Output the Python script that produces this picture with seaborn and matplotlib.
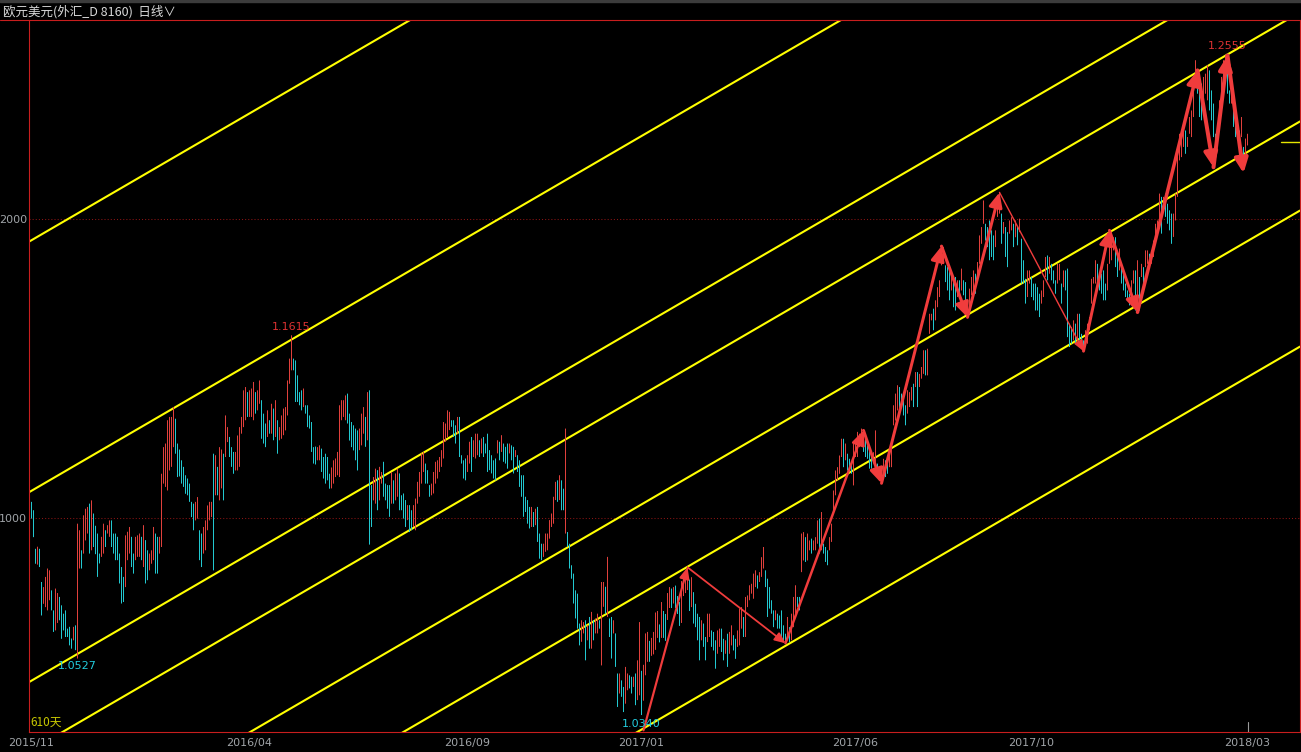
import numpy as np
import pandas as pd
import matplotlib
matplotlib.use("Agg")
import matplotlib.pyplot as plt
from matplotlib.lines import Line2D
from matplotlib.patches import Rectangle
import seaborn as sns

# ---------------- data (chart units: 1000 = 1.1000, 2000 = 1.2000) ----------------
bar_high = [
    1055,1027,898,905,898,787,770,804,832,826,759,692,765,750,737,709,681,692,631,637,598,637,642,982,
    960,893,1010,1032,1038,1049,1060,1016,975,
    949,882,938,982,960,977,993,993,949,949,938,882,837,804,943,955,
    971,938,882,938,943,949,938,977,927,893,882,893,971,949,938,938,1149,1238,1250,1328,1339,1339,1372,1333,1250,1230,
    1194,1172,1144,1133,1116,1055,1049,1055,1071,960,949,971,993,1043,1055,1055,1216,1211,1172,1238,1230,
    1216,1344,1305,1272,1238,1222,1222,1277,1305,1339,1428,1439,1422,1428,1434,1456,1422,1428,1461,1395,1350,
    1317,1361,1328,1383,1367,1395,1328,1305,1344,1367,1372,1461,1534,1612,
    1534,1528,1478,1422,1428,1434,1378,1378,1344,1322,1238,1240,
    1238,1244,1233,1205,1216,1205,1149,1170,
    1194,1200,1222,1378,1395,1395,1411,1417,1350,
    1322,1311,1300,1294,
    1300,1350,1372,1339,1422,1428,1111,1138,1166,1161,1172,1155,1189,1116,1111,1111,1155,1127,1150,1166,
    1150,1077,1083,1061,1044,1044,1027,1044,1066,1122,1155,1217,1222,1183,1161,1111,1116,1155,1189,1194,
    1205,1228,1322,1317,1361,1356,1328,1328,1311,1339,1339,1211,1194,1200,1211,1256,1272,1261,1283,1283,
    1261,1267,1272,1250,1283,1228,1211,1194,1200,1261,1256,1278,1250,1239,1250,1250,1244,1239,1228,1211,
    1194,1144,1144,1072,1061,1038,1038,1021,1032,1038,949,915,915,949,949,994,1016,1072,1122,1127,
    1144,1127,1099,1300,954,915,843,815,759,748,648,659,653,659,642,670,687,659,665,681,
    659,787,787,771,871,665,670,659,615,481,481,458,436,503,481,475,470,470,481,525,
    653,490,
    510,615,620,590,600,620,685,690,645,720,690,680,750,770,765,770,775,740,720,790,810,825,838,795,
    803,753,714,681,670,659,648,603,681,681,625,620,592,625,631,631,597,592,614,620,
    642,609,597,625,698,703,670,737,742,776,781,815,826,809,820,870,904,826,798,770,
    726,692,692,681,675,692,642,614,670,636,681,737,776,737,737,949,954,937,949,926,
    932,926,937,993,999,1021,915,904,893,937,982,1093,1160,1171,1210,1266,1266,1250,1216,1199,
    1183,1250,1250,1289,1283,1300,1283,1272,1244,1238,1205,1221,1294,1183,1171,1171,1199,1194,1183,1210,
    1238,1378,1417,1445,1439,1417,1411,1378,1428,1422,1439,1450,1489,1489,1483,1506,1562,1562,1567,1684,
    1684,1701,1729,1773,1796,1907,1907,1846,1840,1829,1818,1807,1807,1796,1796,1835,1796,1790,1706,1768,
    1807,1829,1818,1857,1946,1974,2063,1985,1974,1996,1963,1946,1963,2075,2091,2019,1991,1974,1957,1996,
    2007,1985,1996,1974,
    2002,1935,1863,1801,1829,1829,1807,1785,1785,1773,1751,1762,1796,1874,1879,1874,1851,1829,1796,1851,
    1851,1785,1829,1829,1835,1651,1640,1662,1651,1684,1684,1617,1595,1629,1651,1673,1801,1807,1863,1851,
    1807,1818,1829,1785,1851,1963,1957,1940,1940,1896,1902,1851,1829,1785,1762,1751,1796,1829,1829,1863,
    1807,1851,1840,1896,1896,1885,1896,1929,1985,1996,2086,2075,2075,2086,2052,2030,2019,2019,2086,2242,
    2286,2297,2297,2297,2275,2342,2364,2442,2532,2498,2465,2454,2476,2487,2515,2498,2431,2387,2286,2320,
    2398,2476,2532,2548,2554,2431,2442,2387,2342,2309,2297,2342,2242,2270,2286,
]
bar_low = [
    999,937,848,845,837,675,714,703,692,726,692,620,625,650,659,597,625,603,603,575,564,592,559,531,
    832,832,882,926,949,882,893,904,880,
    804,849,871,882,904,949,938,904,882,860,860,782,715,720,770,860,
    882,837,815,860,871,871,860,837,782,793,826,848,860,815,815,882,904,1116,1105,1093,1160,1172,1238,1216,1138,1140,
    1116,1105,1082,1077,1055,1004,960,993,999,860,837,882,893,960,993,1004,826,1077,1077,1060,1100,
    1060,1205,1255,1205,1172,1149,1160,1160,1172,1283,1305,1328,1339,1339,1339,1328,1350,1361,1383,1266,1250,
    1238,1272,1283,1283,1261,1272,1216,1261,1266,1278,1294,1344,1450,1495,
    1495,1389,1389,1378,1361,1372,1350,1305,1300,1222,1183,1180,
    1194,1194,1155,1133,1116,1127,1099,1100,
    1116,1138,1144,1138,1328,1339,1328,1317,1260,
    1238,1227,1194,1160,
    1228,1244,1283,1239,1261,912,971,1060,1049,1027,1060,1116,1072,1060,1032,1005,1049,1049,1060,1072,
    1027,1027,999,971,994,954,960,971,960,1049,1072,1116,1155,1116,1116,1072,1077,1083,1116,1133,
    1155,1172,1200,1256,1272,1295,1306,1272,1250,1283,1205,1183,1133,1127,1155,1183,1155,1205,1200,1211,
    1205,1217,1205,1217,1155,1161,1150,1133,1127,1217,1194,1222,1189,1183,1166,1217,1194,1150,1205,1155,
    1105,1072,1005,1021,982,966,971,971,977,921,865,860,871,888,893,932,971,982,1061,1055,
    1061,1027,1027,949,904,832,798,715,665,631,575,587,615,525,592,564,564,592,615,615,
    631,508,704,681,670,603,531,615,503,369,414,403,352,380,425,431,414,436,375,392,
    408,342,
    390,475,520,520,540,545,560,600,585,600,600,590,660,700,700,715,700,680,640,650,740,750,760,690,
    703,648,636,592,525,592,570,525,586,603,570,558,497,547,570,553,525,547,503,547,
    575,558,530,570,575,631,603,603,703,726,748,731,770,765,787,804,832,770,670,698,
    681,636,659,631,631,603,586,581,603,586,592,636,681,703,692,820,859,854,859,893,
    882,893,893,915,882,893,882,854,843,893,921,1015,1077,1127,1149,1205,1171,1194,1160,1155,
    1149,1110,1205,1205,1238,1261,1222,1205,1199,1166,1166,1183,1160,1149,1132,1121,1138,1138,1149,1171,
    1171,1311,1327,1361,1361,1378,1344,1311,1350,1372,1394,1372,1439,1372,1439,1467,1483,1478,1478,1617,
    1662,1629,1662,1706,1740,1846,1851,1790,1762,1729,1762,1706,1695,1740,1740,1762,1746,1729,1673,1684,
    1746,1762,1751,1796,1851,1918,1985,1929,1907,1863,1874,1863,1907,2008,2019,1918,1952,1874,1840,1952,
    1963,1907,1940,1913,
    1957,1785,1785,1718,1740,1785,1740,1729,1695,1695,1673,1718,1740,1807,1796,1818,1796,1785,1751,1785,
    1796,1718,1773,1762,1606,1573,1584,1595,1584,1595,1595,1584,1556,1573,1584,1629,1718,1785,1785,1785,
    1762,1751,1729,1729,1762,1851,1863,1896,1840,1807,1829,1785,1762,1740,1729,1712,1740,1785,1695,1718,
    1695,1807,1785,1840,1851,1851,1851,1874,1929,1941,1985,1952,2030,2008,1985,1963,1918,1941,1996,2075,
    2197,2208,2242,2219,2242,2286,2275,2342,2442,2420,2342,2331,2387,2420,2398,2364,2331,2275,2219,2253,
    2331,2398,2476,2498,2420,2387,2387,2309,2275,2264,2231,2275,2197,2197,2247,
]

x_tick_bars = [0, 109, 218, 305, 412, 500, 608]
x_tick_labels = ["2015/11", "2016/04", "2016/09", "2017/01", "2017/06", "2017/10", "2018/03"]
y_tick_values = [1000, 2000]
y_tick_labels = ["1000", "2000"]

# parallel channel: value of each line at bar 0, common slope per bar
channel_slope = 3.89
channel_at_bar0 = [1930, 1092, 457, 225, -140, -438, -893]

# zig-zag wave pivots (bar index, value) and stroke width of each leg
wave_bars = [306, 328, 377, 416, 425, 455, 468, 484, 526, 539, 553, 583, 591, 598, 606]
wave_vals = [291, 836, 582, 1294, 1117, 1910, 1672, 2090, 1559, 1963, 1689, 2498, 2174, 2548, 2154]
wave_widths = [2.2, 1.8, 2.5, 3.0, 3.0, 3.2, 3.0, 1.4, 3.0, 3.0, 3.5, 4.0, 4.0, 4.0]

extreme_texts = ["1.0527", "1.1615", "1.0340", "1.2555"]
extreme_bars = [23, 130, 305, 598]
extreme_kinds = ["low", "high", "low", "high"]

last_price = 2258
period_text = "610天"
title_text = "欧元美元(外汇_D 8160)  日线∨"

# ---------------- style ----------------
W, H = 1301, 752
RED_FRAME = "#c81e1e"
BAR_UP = "#e0403c"
BAR_DN = "#22c8d0"
ARROW_RED = "#f03c3c"
YELLOW = "#ffff00"
GRAY = "#a0a4a8"

sns.set_theme(style="dark", rc={
    "axes.facecolor": "black", "figure.facecolor": "black",
    "savefig.facecolor": "black", "axes.edgecolor": RED_FRAME,
})
plt.rcParams["font.family"] = ["DejaVu Sans", "Noto Sans CJK SC"]

fig = plt.figure(figsize=(W / 100, H / 100), dpi=100)
ax = fig.add_axes([29 / W, 20 / H, 1271 / W, 712 / H])
ax.set_facecolor("black")

high = np.array(bar_high, dtype=float)
low = np.array(bar_low, dtype=float)
idx = np.arange(len(high))
mid = (high + low) / 2
up = np.r_[False, mid[1:] > mid[:-1]]
colors = np.where(up, BAR_UP, BAR_DN)

xlim = (-1.25, 634.25)
ylim = (285.3, 2666.5)

# channel lines with seaborn
rows = []
for k, b0 in enumerate(channel_at_bar0):
    for xe in xlim:
        rows.append({"bar": xe, "value": b0 + channel_slope * xe, "line": k})
chan = pd.DataFrame(rows)
sns.lineplot(data=chan, x="bar", y="value", units="line", estimator=None,
             color=YELLOW, linewidth=1.5, ax=ax, legend=False, zorder=2)

# price bars (1 px wide)
ax.vlines(idx, low, high, colors=colors, linewidth=0.72, antialiased=True,
          snap=False, zorder=3)

# grid lines at labelled levels
for v in y_tick_values:
    ax.axhline(v, color="#8a1414", linestyle=(0, (1, 2)), linewidth=0.75, zorder=1)

# wave arrows
for k in range(len(wave_bars) - 1):
    w = wave_widths[k]
    hl = (12 if w >= 2.5 else 9) * 0.072
    hw = (5.5 if w >= 2.5 else 4) * 0.072
    ax.annotate("", xy=(wave_bars[k + 1], wave_vals[k + 1]),
                xytext=(wave_bars[k], wave_vals[k]),
                arrowprops=dict(arrowstyle=f"-|>,head_length={hl},head_width={hw}",
                                color=ARROW_RED, lw=w * 0.72, shrinkA=0, shrinkB=0,
                                mutation_scale=10),
                zorder=5)

# extreme labels
for txt, b, kind in zip(extreme_texts, extreme_bars, extreme_kinds):
    if kind == "low":
        ax.annotate(txt, xy=(b, low[b]), xytext=(0, -2 if b < 100 else -3),
                    textcoords="offset points", ha="center", va="top",
                    color="#22ccdd", fontsize=8, zorder=6)
    else:
        ax.annotate(txt, xy=(b, high[b]), xytext=(0, 3.6),
                    textcoords="offset points", ha="center", va="baseline",
                    color="#dc3232", fontsize=8, zorder=6)

# last price marker and current-bar tick
ax.axhline(last_price, xmin=0.985, xmax=1.0, color="#e6e600", linewidth=1.0, zorder=4)
ax.axvline(idx[-1], ymin=0, ymax=0.014, color="#9a9a9a", linewidth=0.8, zorder=4)

ax.text(0.0013, 0.004, period_text, transform=ax.transAxes, ha="left", va="bottom",
        color="#c8c800", fontsize=8.5, family=["Noto Sans CJK SC", "DejaVu Sans"], zorder=6)

ax.set_xlim(*xlim)
ax.set_ylim(*ylim)
ax.set_xlabel("")
ax.set_ylabel("")
ax.set_xticks(x_tick_bars, x_tick_labels)
ax.set_yticks(y_tick_values, y_tick_labels)
ax.tick_params(axis="x", length=0, pad=4, labelsize=8, labelcolor=GRAY)
ax.tick_params(axis="y", length=0, pad=1.5, labelsize=8, labelcolor=GRAY)
ax.grid(False)
for s in ax.spines.values():
    s.set_visible(True)
    s.set_color(RED_FRAME)
    s.set_linewidth(0.8)

# header
fig.add_artist(Rectangle((0, 1 - 2 / H), 1, 2 / H, transform=fig.transFigure,
                         color="#3c3c3c", zorder=0))
fig.add_artist(Line2D([0, 29 / W], [1 - 20 / H, 1 - 20 / H], transform=fig.transFigure,
                      color=RED_FRAME, linewidth=0.8))
fig.text(3 / W, 1 - 12 / H, title_text, ha="left", va="center", color="#d8d8d8",
         fontsize=9, family=["Noto Sans CJK SC", "DejaVu Sans"])

fig.savefig("out.png", dpi=100, facecolor="black")
